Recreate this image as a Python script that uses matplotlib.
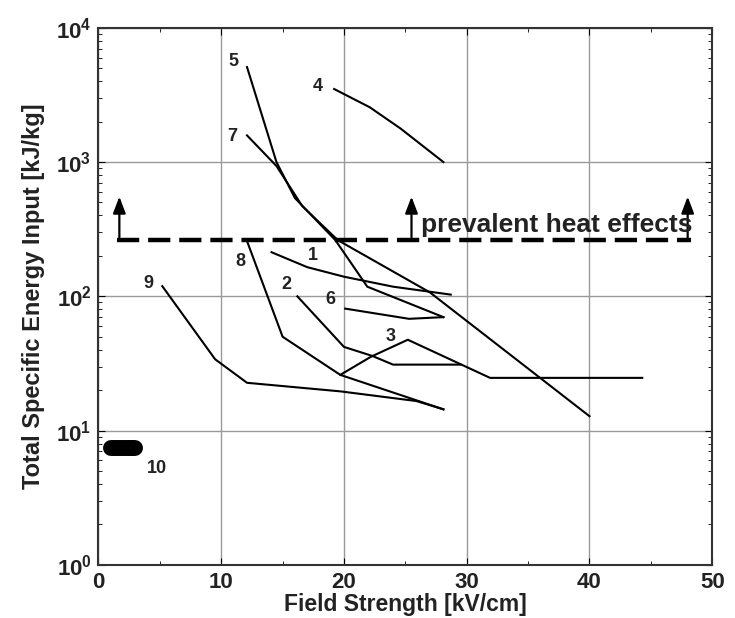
import matplotlib
matplotlib.use("Agg")
import matplotlib.pyplot as plt
from matplotlib.ticker import LogLocator, NullFormatter, MultipleLocator, FixedLocator, FixedFormatter

plt.rcParams["font.family"] = ["Liberation Sans", "DejaVu Sans"]
plt.rcParams["mathtext.fontset"] = "custom"
plt.rcParams["mathtext.rm"] = "Liberation Sans:bold"
plt.rcParams["mathtext.default"] = "rm"

# ---- data ----
c1_x = [14.1, 17.0, 20.0, 24.0, 28.7]
c1_y = [213, 165, 140, 118, 103]
c2_x = [16.2, 20.0, 22.3, 24.0, 29.5]
c2_y = [100, 42, 36, 31, 31]
c3_x = [19.7, 22.2, 25.2, 31.9, 44.3]
c3_y = [26, 35.5, 47.5, 24.7, 24.7]
c4_x = [19.2, 22.1, 24.6, 28.1]
c4_y = [3500, 2560, 1780, 1000]
c5_x = [12.1, 14.5, 16.0, 19.3, 21.9, 28.1]
c5_y = [5100, 1000, 540, 262, 118, 70]
c6_x = [20.1, 25.3, 28.1]
c6_y = [81, 68, 70]
c7_x = [12.1, 14.5, 16.6, 19.5, 27.0, 40.0]
c7_y = [1580, 935, 470, 262, 107, 12.8]
c8_x = [12.1, 15.0, 19.7, 28.1]
c8_y = [258, 50, 26, 14.4]
c9_x = [5.2, 9.5, 12.1, 19.7, 25.9, 28.1]
c9_y = [119, 34, 22.7, 19.6, 16.6, 14.4]
c10_x = [1.0, 3.0]
c10_y = [7.4, 7.4]

heat_level = 262
heat_x = [1.5, 48.3]
arrow_x = [1.7, 25.5, 48.0]
arrow_top = 580

labels = ["1", "2", "3", "4", "5", "6", "7", "8", "9", "10"]
label_x = [17.5, 15.3, 23.8, 17.9, 11.0, 18.9, 10.9, 11.6, 4.1, 4.8]
label_y = [200, 123, 50, 3630, 5600, 95, 1540, 182, 125, 5.2]

x_ticks = [0, 10, 20, 30, 40, 50]
y_ticks = [1, 10, 100, 1000, 10000]
y_tick_labels = ["$10^{0}$", "$10^{1}$", "$10^{2}$", "$10^{3}$", "$10^{4}$"]

fig = plt.figure(figsize=(7.35, 6.18), dpi=100)
ax = fig.add_axes([0.134, 0.086, 0.835, 0.869])
ax.set_yscale("log")
ax.set_xlim(0, 50)
ax.set_ylim(1, 1e4)

ax.grid(True, which="major", color="#9a9a9a", linewidth=1.0)
ax.set_axisbelow(True)

lw = 1.5
for xs, ys in [(c1_x, c1_y), (c2_x, c2_y), (c3_x, c3_y), (c4_x, c4_y), (c5_x, c5_y),
               (c6_x, c6_y), (c7_x, c7_y), (c8_x, c8_y), (c9_x, c9_y)]:
    ax.plot(xs, ys, color="black", linewidth=lw)

ax.plot(c10_x, c10_y, color="black", linewidth=11.5, solid_capstyle="round")

ax.plot(heat_x, [heat_level, heat_level], color="black", linewidth=3.2,
        linestyle=(0, (5.0, 2.0)))
for ax_x in arrow_x:
    ax.annotate("", xy=(ax_x, arrow_top), xytext=(ax_x, heat_level),
                arrowprops=dict(arrowstyle="-|>,head_length=1.0,head_width=0.38",
                                color="black", linewidth=1.6))
ax.text(26.3, 338, "prevalent heat effects", fontsize=19, color="#222222",
        ha="left", va="center", fontweight="bold")

for t, xx, yy in zip(labels, label_x, label_y):
    ax.text(xx, yy, t, fontsize=13, fontweight="bold", color="#222222",
            ha="center", va="center")

ax.xaxis.set_major_locator(FixedLocator(x_ticks))
ax.xaxis.set_major_formatter(FixedFormatter([str(v) for v in x_ticks]))
ax.xaxis.set_minor_locator(MultipleLocator(5))
ax.yaxis.set_major_locator(FixedLocator(y_ticks))
ax.yaxis.set_major_formatter(FixedFormatter(y_tick_labels))
ax.yaxis.set_minor_locator(LogLocator(base=10, subs=range(2, 10), numticks=20))
ax.yaxis.set_minor_formatter(NullFormatter())
ax.tick_params(which="both", direction="in", top=True, right=True)
ax.tick_params(which="major", length=5, labelsize=16, pad=5)
ax.tick_params(which="minor", length=3)
for lab in ax.get_xticklabels() + ax.get_yticklabels():
    lab.set_fontweight("bold")
    lab.set_color("#222222")
for s in ax.spines.values():
    s.set_linewidth(1.5)
    s.set_color("#333333")

ax.set_xlabel("Field Strength [kV/cm]", fontsize=16.5, fontweight="bold", labelpad=0,
              color="#222222")
ax.set_ylabel("Total Specific Energy Input [kJ/kg]", fontsize=17, fontweight="bold",
              labelpad=8, color="#222222")

fig.savefig("out.png", dpi=100)
